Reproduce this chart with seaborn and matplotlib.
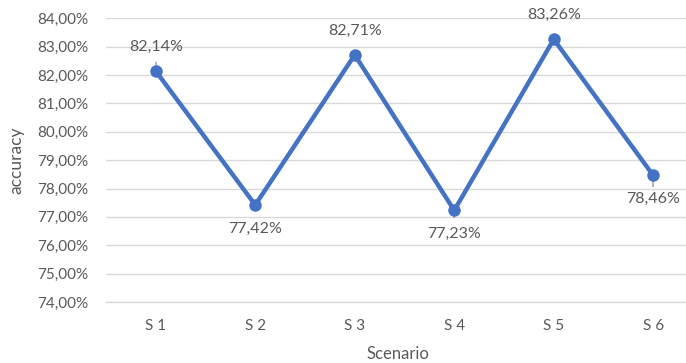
import matplotlib
matplotlib.use("Agg")
import matplotlib.pyplot as plt
import seaborn as sns
import pandas as pd
from matplotlib.ticker import FuncFormatter, MultipleLocator

scenarios = ["S 1", "S 2", "S 3", "S 4", "S 5", "S 6"]
accuracy = [82.14, 77.42, 82.71, 77.23, 83.26, 78.46]
err_up = [0.31, 0.0, 0.0, 0.0, 0.0, 0.0]
err_down = [0.0, 0.0, 0.0, 0.27, 0.0, 0.39]
label_above = [True, False, True, False, True, False]

df = pd.DataFrame({"Scenario": scenarios, "accuracy": accuracy})

sns.set_theme(style="white")
plt.rcParams["font.family"] = ["Lato", "DejaVu Sans"]

text_color = "#595959"
line_color = "#4472C4"
grid_color = "#D9D9D9"

fig = plt.figure(figsize=(6.86, 3.63), dpi=100)
ax = fig.add_axes([106 / 686, 1 - 302 / 363, (703 - 106) / 686, (302 - 18.3) / 363])

x = list(range(len(scenarios)))
ax.errorbar(x, accuracy, yerr=[err_down, err_up], fmt="none",
            ecolor="#A6A6A6", elinewidth=1.2, capsize=0, zorder=2)
sns.lineplot(data=df, x="Scenario", y="accuracy", ax=ax, color=line_color,
             linewidth=3.2, marker="o", markersize=9, markeredgewidth=0,
             zorder=3, sort=False)

for xi, v, up in zip(x, accuracy, label_above):
    txt = f"{v:.2f}%".replace(".", ",")
    ax.annotate(txt, (xi, v), xytext=(0, 17.5 if up else -17), textcoords="offset points",
                ha="center", va="center", fontsize=11.5, color=text_color)

ax.set_ylim(74, 84)
ax.set_xlim(-0.5, len(scenarios) - 0.5)
ax.yaxis.set_major_locator(MultipleLocator(1))
ax.yaxis.set_major_formatter(FuncFormatter(lambda v, p: f"{v:.2f}%".replace(".", ",")))
ax.grid(axis="y", color=grid_color, linewidth=1.0)
ax.set_axisbelow(True)
for s in ["top", "right", "left"]:
    ax.spines[s].set_visible(False)
ax.spines["bottom"].set_color(grid_color)
ax.spines["bottom"].set_linewidth(1.0)
ax.tick_params(axis="both", length=0, labelsize=11, labelcolor=text_color)
ax.tick_params(axis="y", pad=13)
ax.tick_params(axis="x", pad=12)

ax.set_xlabel("Scenario", fontsize=12, color=text_color)
ax.set_ylabel("accuracy", fontsize=12.5, color=text_color)
ax.xaxis.set_label_coords((398 - 106) / (703 - 106), -44 / (302 - 18.3))
ax.yaxis.set_label_coords(-(106 - 24) / (703 - 106), 0.5)

fig.savefig("out.png", dpi=100)
